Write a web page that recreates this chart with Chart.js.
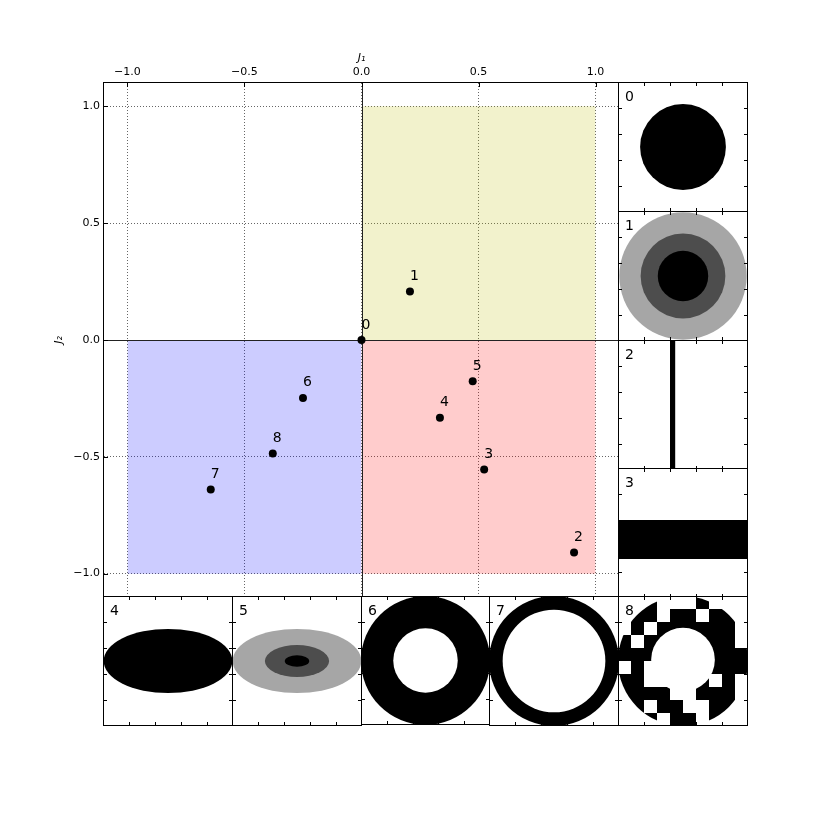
<!DOCTYPE html>
<html>
<head>
<meta charset="utf-8">
<script src="https://cdn.jsdelivr.net/npm/chart.js@4.4.0/dist/chart.umd.min.js"></script>
<style>
  body { margin: 0; background: #fff; }
  #wrap { position: relative; width: 830px; height: 830px; }
  #wrap canvas { position: absolute; }
</style>
</head>
<body>
<div id="wrap">
  <canvas id="mainChart" width="830" height="830" style="left:0;top:0"></canvas>
</div>
<script>
// shape ids and their invariants
const pointIds = ['0', '1', '2', '3', '4', '5', '6', '7', '8'];
const j1Values = [0, 0.207, 0.908, 0.524, 0.335, 0.475, -0.250, -0.644, -0.379];
const j2Values = [0, 0.208, -0.909, -0.554, -0.333, -0.177, -0.248, -0.640, -0.486];

// shaded quadrants: x span and the y edge opposite the zero line
const quadSpans = [[0, 1], [0, 1], [-1, 0]];
const quadEdges = [1, -1, -1];
const quadColours = ['rgba(191,191,0,0.2)', 'rgba(255,0,0,0.2)', 'rgba(0,0,255,0.2)'];

const axisTicks = [-1, -0.5, 0, 0.5, 1];
const thumbTicks = [0.2, 0.4, 0.6, 0.8];

// thumbnail images in image units (0..1, y down): [shape, a, b, c, d, darkness]
// disc: centre a,b radii c,d   rect: corners (a,b) (c,d)
const img0 = [['disc', 0.5, 0.5, 0.33, 0.33, 1]];
const img1 = [['disc', 0.5, 0.5, 0.49, 0.49, 0.35], ['disc', 0.5, 0.5, 0.326, 0.326, 0.7], ['disc', 0.5, 0.5, 0.194, 0.194, 1]];
const img2 = [['rect', 0.4, 0, 0.44, 1, 1]];
const img3 = [['rect', 0, 0.4, 1, 0.7, 1]];
const img4 = [['disc', 0.5, 0.5, 0.495, 0.247, 1]];
const img5 = [['disc', 0.5, 0.5, 0.495, 0.247, 0.35], ['disc', 0.5, 0.5, 0.247, 0.123, 0.7], ['disc', 0.5, 0.5, 0.094, 0.044, 1]];
const img6 = [['disc', 0.5, 0.5, 0.5, 0.5, 1], ['disc', 0.5, 0.5, 0.25, 0.25, 0]];
const img7 = [['disc', 0.5, 0.5, 0.5, 0.5, 1], ['disc', 0.5, 0.5, 0.395, 0.395, 0]];
const img8 = [['disc', 0.5, 0.5, 0.5, 0.5, 1], ['disc', 0.5, 0.49, 0.245, 0.245, 0]];
// 10x10 blocks overwritten in image 8: B black, W white, . unchanged
const img8Blocks = [
  '...WWW.W..',
  '...W..W...',
  'W.W......W',
  '.W.......W',
  '..........',
  'W.W.......',
  '..WW...W.W',
  '....WW.B.W',
  '..W..WW...',
  '...WBBW...'
];
const thumbImages = [img0, img1, img2, img3, img4, img5, img6, img7, img8];

const fmtTick = v => (v < 0 ? '\u2212' : '') + Math.abs(v).toFixed(1);

const mainDecor = {
  id: 'mainDecor',
  beforeDatasetDraw(chart, args) {
    if (args.index !== 0) return;
    // solid zero lines over the fills, under the points
    const {ctx, chartArea: a, scales: {x, y}} = chart;
    const x0 = Math.round(x.getPixelForValue(0)) + 0.5;
    const y0 = Math.round(y.getPixelForValue(0)) + 0.5;
    ctx.save();
    ctx.strokeStyle = '#222';
    ctx.lineWidth = 1;
    ctx.beginPath();
    ctx.moveTo(x0, a.top); ctx.lineTo(x0, a.bottom);
    ctx.moveTo(a.left, y0); ctx.lineTo(a.right, y0);
    ctx.stroke();
    ctx.restore();
  },
  afterDatasetsDraw(chart) {
    const {ctx} = chart;
    const meta = chart.getDatasetMeta(0);
    ctx.save();
    ctx.fillStyle = '#000';
    ctx.font = '14px "DejaVu Sans"';
    ctx.textAlign = 'left';
    ctx.textBaseline = 'alphabetic';
    meta.data.forEach((pt, i) => ctx.fillText(pointIds[i], pt.x, pt.y - 11.5));
    ctx.restore();
  },
  afterDraw(chart) {
    const {ctx, chartArea: a, scales: {x, y}} = chart;
    ctx.save();
    ctx.strokeStyle = '#000';
    ctx.lineWidth = 1;
    ctx.beginPath();
    axisTicks.forEach(v => {
      const px = Math.round(x.getPixelForValue(v)) + 0.5;
      ctx.moveTo(px, a.top); ctx.lineTo(px, a.top + 4);
      const py = Math.round(y.getPixelForValue(v)) + 0.5;
      ctx.moveTo(a.left, py); ctx.lineTo(a.left + 4, py);
    });
    ctx.stroke();
    ctx.strokeRect(a.left - 0.5, a.top - 0.5, a.right - a.left + 1, a.bottom - a.top + 1);
    ctx.restore();
  }
};

const tickFont = {family: 'DejaVu Sans', size: 11};
const titleFont = {family: 'DejaVu Sans', size: 11, style: 'italic'};

const mainChart = new Chart(document.getElementById('mainChart'), {
  type: 'scatter',
  data: {
    datasets: [
      {
        label: 'shapes',
        data: j1Values.map((v, i) => ({x: v, y: j2Values[i]})),
        backgroundColor: '#000',
        borderWidth: 0,
        pointRadius: 4,
        pointHoverRadius: 4
      },
      ...quadSpans.map((span, i) => ({
        type: 'line',
        label: 'quadrant ' + i,
        data: span.map(v => ({x: v, y: quadEdges[i]})),
        fill: 'origin',
        backgroundColor: quadColours[i],
        borderWidth: 0,
        pointRadius: 0,
        tension: 0
      }))
    ]
  },
  options: {
    responsive: false,
    animation: false,
    events: [],
    layout: {padding: {left: 0, top: 0, right: 211, bottom: 233}},
    plugins: {legend: {display: false}, tooltip: {enabled: false}},
    scales: {
      x: {
        type: 'linear',
        position: 'top',
        min: -1.1,
        max: 1.1,
        afterBuildTicks: s => { s.ticks = axisTicks.map(v => ({value: v})); },
        afterFit: s => { s.height = 83; },
        ticks: {callback: fmtTick, padding: 4, color: '#000', font: tickFont, maxRotation: 0, autoSkip: false},
        grid: {color: 'rgba(0,0,0,0.6)', lineWidth: 1, drawTicks: false},
        border: {display: false, dash: [1, 2]},
        title: {display: true, text: 'J\u2081', color: '#000', font: titleFont, padding: {top: 52, bottom: 0}}
      },
      y: {
        type: 'linear',
        position: 'left',
        min: -1.1,
        max: 1.1,
        afterBuildTicks: s => { s.ticks = axisTicks.map(v => ({value: v})); },
        afterFit: s => { s.width = 104; },
        ticks: {callback: fmtTick, padding: 4, color: '#000', font: tickFont, autoSkip: false},
        grid: {color: 'rgba(0,0,0,0.6)', lineWidth: 1, drawTicks: false},
        border: {display: false, dash: [1, 2]},
        title: {display: true, text: 'J\u2082', color: '#000', font: titleFont, padding: {top: 53, bottom: 0}}
      }
    }
  },
  plugins: [mainDecor]
});

// thumbnails along the right and bottom edges, a quarter of the plot wide
function thumbPainter(layers, blocks, label) {
  return {
    id: 'thumbPainter',
    afterDraw(chart) {
      const {ctx, chartArea: a, scales: {x, y}} = chart;
      const grey = d => { const g = Math.round(255 * (1 - d)); return 'rgb(' + g + ',' + g + ',' + g + ')'; };
      ctx.save();
      ctx.fillStyle = '#fff';
      ctx.fillRect(a.left, a.top, a.right - a.left, a.bottom - a.top);
      ctx.beginPath();
      ctx.rect(a.left, a.top, a.right - a.left, a.bottom - a.top);
      ctx.clip();
      layers.forEach(([shape, p, q, r, s, d]) => {
        ctx.fillStyle = grey(d);
        ctx.beginPath();
        if (shape === 'disc') {
          const cx = x.getPixelForValue(p), cy = y.getPixelForValue(q);
          ctx.ellipse(cx, cy, Math.abs(x.getPixelForValue(p + r) - cx), Math.abs(y.getPixelForValue(q + s) - cy), 0, 0, Math.PI * 2);
        } else {
          const x0 = x.getPixelForValue(p), y0 = y.getPixelForValue(q);
          ctx.rect(x0, y0, x.getPixelForValue(r) - x0, y.getPixelForValue(s) - y0);
        }
        ctx.fill();
      });
      if (blocks) {
        const n = blocks.length;
        blocks.forEach((row, r) => {
          row.split('').forEach((c, k) => {
            if (c === '.') return;
            const x0 = x.getPixelForValue(k / n), x1 = x.getPixelForValue((k + 1) / n);
            const y0 = y.getPixelForValue(r / n), y1 = y.getPixelForValue((r + 1) / n);
            ctx.fillStyle = c === 'B' ? '#000' : '#fff';
            ctx.fillRect(x0, y0, x1 - x0, y1 - y0);
          });
        });
      }
      ctx.restore();

      ctx.save();
      ctx.strokeStyle = '#000';
      ctx.lineWidth = 1;
      ctx.beginPath();
      thumbTicks.forEach(v => {
        const px = Math.round(x.getPixelForValue(v)) + 0.5;
        ctx.moveTo(px, a.top); ctx.lineTo(px, a.top + 4);
        ctx.moveTo(px, a.bottom); ctx.lineTo(px, a.bottom - 4);
        const py = Math.round(y.getPixelForValue(v)) + 0.5;
        ctx.moveTo(a.left, py); ctx.lineTo(a.left + 4, py);
        ctx.moveTo(a.right, py); ctx.lineTo(a.right - 4, py);
      });
      ctx.stroke();
      ctx.strokeRect(a.left + 0.5, a.top + 0.5, a.right - a.left - 1, a.bottom - a.top - 1);
      ctx.fillStyle = '#000';
      ctx.font = '14px "DejaVu Sans"';
      ctx.textBaseline = 'alphabetic';
      ctx.fillText(label, a.left + 7, a.top + 19);
      ctx.restore();
    }
  };
}

const area = mainChart.chartArea;
const step = (area.right - area.left) / 4;
const slots = [];
for (let i = 0; i < 4; i++) slots.push([area.right, area.top + i * step]);
for (let j = 0; j < 5; j++) slots.push([area.left + j * step, area.bottom]);

const wrap = document.getElementById('wrap');
thumbImages.forEach((layers, i) => {
  const [sx, sy] = slots[i];
  const left = Math.round(sx) - 1, top = Math.round(sy) - 1;
  const size = Math.round(sx + step) - Math.round(sx) + 1;
  const cv = document.createElement('canvas');
  cv.width = size;
  cv.height = size;
  cv.style.left = left + 'px';
  cv.style.top = top + 'px';
  wrap.appendChild(cv);
  new Chart(cv, {
    type: 'scatter',
    data: {datasets: []},
    options: {
      responsive: false,
      animation: false,
      events: [],
      layout: {padding: 0},
      plugins: {legend: {display: false}, tooltip: {enabled: false}},
      scales: {
        x: {type: 'linear', min: 0, max: 1, display: false},
        y: {type: 'linear', min: 0, max: 1, reverse: true, display: false}
      }
    },
    plugins: [thumbPainter(layers, i === 8 ? img8Blocks : null, pointIds[i])]
  });
});
</script>
</body>
</html>
